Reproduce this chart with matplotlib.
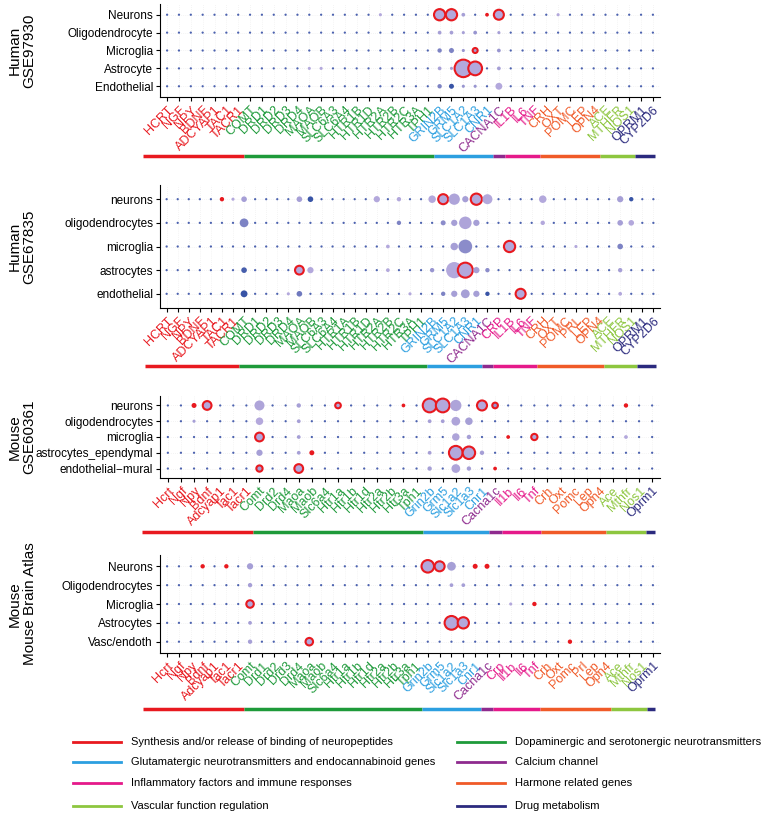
import numpy as np
import matplotlib.pyplot as plt
from matplotlib.colors import LinearSegmentedColormap

plt.rcParams['font.family'] = ['Liberation Sans', 'DejaVu Sans']

# group colors
group_colors = ['#E8191F', '#1E9A3A', '#2C9FE0', '#8E2A8E', '#E5198A', '#F05A28', '#8DC63F', '#2B2A7E']
group_names = ['Synthesis and/or release of binding of neuropeptides',
               'Dopaminergic and serotonergic neurotransmitters',
               'Glutamatergic neurotransmitters and endocannabinoid genes',
               'Calcium channel',
               'Inflammatory factors and immune responses',
               'Harmone related genes',
               'Vascular function regulation',
               'Drug metabolism']

# ---- panel 1: Human GSE97930
genes1 = [['HCRT', 'NGF', 'NPY', 'BDNF', 'ADCYAP1', 'TAC1', 'TACR1'],
          ['COMT', 'DRD1', 'DRD2', 'DRD3', 'DRD4', 'MAOA', 'MAOB', 'SLC6A3', 'SLC6A4', 'HTR1B', 'HTR1D',
           'HTR2A', 'HTR2B', 'HTR2C', 'HTR3A', 'TPH1'],
          ['GRIN2B', 'GRM5', 'SLC1A2', 'SLC1A3', 'CNR1'],
          ['CACNA1C'],
          ['IL1B', 'IL6', 'TNF'],
          ['CRH', 'OXT', 'POMC', 'LEP', 'OPN4'],
          ['ACE', 'MTHFR', 'NOS1'],
          ['OPRM1', 'CYP2D6']]
cells1 = ['Neurons', 'Oligodendrocyte', 'Microglia', 'Astrocyte', 'Endothelial']
# (cell, gene, dot diameter, shade 0=light 1=dark, red 0 none / 1 ring / 2 solid)
spots1 = [
    ('Neurons', 'GRIN2B', 9, 1, 1), ('Neurons', 'GRM5', 9, 1, 1), ('Neurons', 'SLC1A2', 3, 0.1, 0),
    ('Neurons', 'CNR1', 3, 1, 2), ('Neurons', 'CACNA1C', 8, 1, 1), ('Neurons', 'HTR2A', 2.5, 1, 0),
    ('Neurons', 'OXT', 2.5, 1, 0),
    ('Oligodendrocyte', 'GRIN2B', 3, 0.1, 0), ('Oligodendrocyte', 'GRM5', 3, 0.1, 0),
    ('Oligodendrocyte', 'SLC1A2', 2.5, 0.1, 0), ('Oligodendrocyte', 'SLC1A3', 3, 0.2, 0),
    ('Oligodendrocyte', 'CACNA1C', 2.5, 0.1, 0),
    ('Microglia', 'GRIN2B', 3.5, 0.4, 0), ('Microglia', 'GRM5', 4, 0.4, 0), ('Microglia', 'SLC1A2', 2.5, 0.2, 0),
    ('Microglia', 'SLC1A3', 4, 0.1, 1), ('Microglia', 'CACNA1C', 3, 0.2, 0),
    ('Astrocyte', 'SLC1A2', 14, 1, 1), ('Astrocyte', 'SLC1A3', 11, 1, 1), ('Astrocyte', 'GRIN2B', 3, 0.1, 0),
    ('Astrocyte', 'GRM5', 2.5, 0.1, 0), ('Astrocyte', 'CACNA1C', 3, 0.1, 0), ('Astrocyte', 'MAOA', 2.5, 1, 0),
    ('Astrocyte', 'MAOB', 2.5, 1, 0),
    ('Endothelial', 'GRIN2B', 3.5, 0.4, 0), ('Endothelial', 'GRM5', 4, 0.9, 0),
    ('Endothelial', 'SLC1A2', 2.5, 0.2, 0), ('Endothelial', 'SLC1A3', 2.5, 0.2, 0),
    ('Endothelial', 'CACNA1C', 5.5, 1, 0)]

# ---- panel 2: Human GSE67835
genes2 = [['HCRT', 'NGF', 'NPY', 'BDNF', 'ADCYAP1', 'TAC1', 'TACR1'],
          ['COMT', 'DRD1', 'DRD2', 'DRD3', 'DRD4', 'MAOA', 'MAOB', 'SLC6A3', 'SLC6A4', 'HTR1A', 'HTR1B', 'HTR1D',
           'HTR2A', 'HTR2B', 'HTR2C', 'HTR3A', 'TPH1'],
          ['GRIN2B', 'GRM5', 'SLC1A2', 'SLC1A3', 'CNR1'],
          ['CACNA1C'],
          ['CRP', 'IL1B', 'IL6', 'TNF'],
          ['CRH', 'OXT', 'POMC', 'PRL', 'LEP', 'OPN4'],
          ['ACE', 'MTHFR', 'NOS1'],
          ['OPRM1', 'CYP2D6']]
cells2 = ['neurons', 'oligodendrocytes', 'microglia', 'astrocytes', 'endothelial']
spots2 = [
    ('neurons', 'TAC1', 3.5, 1, 2), ('neurons', 'TACR1', 2.5, 1, 0), ('neurons', 'COMT', 4.5, 0.1, 0),
    ('neurons', 'MAOA', 4.5, 0.1, 0), ('neurons', 'MAOB', 4.5, 0.9, 0), ('neurons', 'HTR2A', 5, 1, 0),
    ('neurons', 'HTR2C', 3.5, 1, 0), ('neurons', 'GRIN2B', 6, 1, 0), ('neurons', 'GRM5', 8, 1, 1),
    ('neurons', 'SLC1A2', 9, 0.05, 0), ('neurons', 'SLC1A3', 5, 0.1, 0), ('neurons', 'CNR1', 9, 1, 1),
    ('neurons', 'CACNA1C', 8, 1, 0), ('neurons', 'CRH', 6, 1, 0), ('neurons', 'MTHFR', 5, 0.1, 0),
    ('neurons', 'NOS1', 3.5, 0.9, 0),
    ('oligodendrocytes', 'COMT', 7, 0.4, 0), ('oligodendrocytes', 'HTR2C', 3.5, 0.4, 0),
    ('oligodendrocytes', 'GRM5', 4, 0.3, 0), ('oligodendrocytes', 'SLC1A2', 5, 0.1, 0),
    ('oligodendrocytes', 'SLC1A3', 10, 0.05, 0), ('oligodendrocytes', 'CNR1', 5, 0.1, 0),
    ('oligodendrocytes', 'CRH', 3.5, 1, 0), ('oligodendrocytes', 'MTHFR', 4.5, 0.1, 0),
    ('oligodendrocytes', 'NOS1', 4.5, 1, 0),
    ('microglia', 'HTR2B', 3, 1, 0), ('microglia', 'SLC1A2', 6, 0.1, 0), ('microglia', 'SLC1A3', 11, 0.3, 0),
    ('microglia', 'IL1B', 9, 1, 1), ('microglia', 'PRL', 2.5, 1, 0), ('microglia', 'MTHFR', 4.5, 0.4, 0),
    ('astrocytes', 'COMT', 4.5, 0.8, 0), ('astrocytes', 'MAOA', 7, 1, 1), ('astrocytes', 'MAOB', 5, 1, 0),
    ('astrocytes', 'HTR2B', 3, 1, 0), ('astrocytes', 'GRIN2B', 3.5, 0.2, 0), ('astrocytes', 'SLC1A2', 13, 1, 0),
    ('astrocytes', 'SLC1A3', 12, 1, 1), ('astrocytes', 'CNR1', 5, 0.1, 0), ('astrocytes', 'CACNA1C', 3.5, 0.3, 0),
    ('astrocytes', 'MTHFR', 3.5, 0.1, 0),
    ('endothelial', 'COMT', 5.5, 0.9, 0), ('endothelial', 'DRD4', 2.5, 1, 0), ('endothelial', 'MAOA', 4.5, 0.5, 0),
    ('endothelial', 'HTR3A', 2.5, 1, 0), ('endothelial', 'GRM5', 3.5, 0.4, 0),
    ('endothelial', 'SLC1A2', 5, 0.1, 0), ('endothelial', 'SLC1A3', 7, 0.1, 0), ('endothelial', 'CNR1', 5, 0.1, 0),
    ('endothelial', 'CACNA1C', 3.5, 0.9, 0), ('endothelial', 'IL6', 8, 1, 1), ('endothelial', 'MTHFR', 3, 1, 0)]

# ---- panel 3: Mouse GSE60361
genes3 = [['Hcrt', 'Ngf', 'Npy', 'Bdnf', 'Adcyap1', 'Tac1', 'Tacr1'],
          ['Comt', 'Drd2', 'Drd4', 'Maoa', 'Maob', 'Slc6a4', 'Htr1a', 'Htr1b', 'Htr1d', 'Htr2a', 'Htr2b', 'Htr3a',
           'Tph1'],
          ['Grin2b', 'Grm5', 'Slc1a2', 'Slc1a3', 'Cnr1'],
          ['Cacna1c'],
          ['Il1b', 'Il6', 'Tnf'],
          ['Crh', 'Oxt', 'Pomc', 'Lep', 'Opn4'],
          ['Ace', 'Mthfr', 'Nos1'],
          ['Oprm1']]
cells3 = ['neurons', 'oligodendrocytes', 'microglia', 'astrocytes_ependymal', 'endothelial\u2212mural']
spots3 = [
    ('neurons', 'Npy', 4, 1, 2), ('neurons', 'Bdnf', 7, 1, 1), ('neurons', 'Comt', 8, 0.05, 0),
    ('neurons', 'Maoa', 3.5, 0.1, 0), ('neurons', 'Htr1a', 4.5, 1, 1), ('neurons', 'Htr3a', 3, 1, 2),
    ('neurons', 'Grin2b', 11, 1, 1), ('neurons', 'Grm5', 11, 1, 1), ('neurons', 'Slc1a2', 9, 0.05, 0),
    ('neurons', 'Cnr1', 8, 1, 1), ('neurons', 'Cacna1c', 4.5, 0.2, 1), ('neurons', 'Mthfr', 3.5, 1, 2),
    ('oligodendrocytes', 'Npy', 2.5, 0.1, 0), ('oligodendrocytes', 'Comt', 6, 0.0, 0),
    ('oligodendrocytes', 'Maoa', 3, 0.1, 0), ('oligodendrocytes', 'Grin2b', 3, 0.1, 0),
    ('oligodendrocytes', 'Grm5', 3, 0.1, 0), ('oligodendrocytes', 'Slc1a2', 7, 0.05, 0),
    ('oligodendrocytes', 'Slc1a3', 6, 0.1, 0),
    ('microglia', 'Comt', 7, 1, 1), ('microglia', 'Maoa', 3, 0.1, 0), ('microglia', 'Slc1a2', 6, 0.05, 0),
    ('microglia', 'Slc1a3', 3.5, 0.1, 0), ('microglia', 'Il1b', 3, 1, 2), ('microglia', 'Tnf', 5, 1, 1),
    ('microglia', 'Mthfr', 3, 1, 0),
    ('astrocytes_ependymal', 'Comt', 5, 0.1, 0), ('astrocytes_ependymal', 'Maoa', 3, 0.1, 0),
    ('astrocytes_ependymal', 'Maob', 4, 1, 2), ('astrocytes_ependymal', 'Grin2b', 3, 0.1, 0),
    ('astrocytes_ependymal', 'Slc1a2', 11, 1, 1), ('astrocytes_ependymal', 'Slc1a3', 10, 1, 1),
    ('astrocytes_ependymal', 'Cnr1', 3.5, 0.1, 0),
    ('endothelial\u2212mural', 'Comt', 5, 0.1, 1), ('endothelial\u2212mural', 'Maoa', 7, 1, 1),
    ('endothelial\u2212mural', 'Grin2b', 3.5, 0.1, 0), ('endothelial\u2212mural', 'Slc1a2', 7, 0.05, 0),
    ('endothelial\u2212mural', 'Slc1a3', 3.5, 0.1, 0), ('endothelial\u2212mural', 'Cacna1c', 3, 1, 2)]

# ---- panel 4: Mouse Brain Atlas
genes4 = [['Hcrt', 'Ngf', 'Npy', 'Bdnf', 'Adcyap1', 'Tac1', 'Tacr1'],
          ['Comt', 'Drd1', 'Drd2', 'Drd3', 'Drd4', 'Maoa', 'Maob', 'Slc6a4', 'Htr1a', 'Htr1b', 'Htr1d', 'Htr2a',
           'Htr2b', 'Htr3a', 'Tph1'],
          ['Grin2b', 'Grm5', 'Slc1a2', 'Slc1a3', 'Cnr1'],
          ['Cacna1c'],
          ['Crp', 'Il1b', 'Il6', 'Tnf'],
          ['Crh', 'Oxt', 'Pomc', 'Prl', 'Lep', 'Opn4'],
          ['Ace', 'Mthfr', 'Nos1'],
          ['Oprm1']]
cells4 = ['Neurons', 'Oligodendrocytes', 'Microglia', 'Astrocytes', 'Vasc/endoth']
spots4 = [
    ('Neurons', 'Bdnf', 3.5, 1, 2), ('Neurons', 'Tac1', 3.5, 1, 2), ('Neurons', 'Comt', 5, 0.1, 0),
    ('Neurons', 'Grin2b', 10, 1, 1), ('Neurons', 'Grm5', 8, 1, 1), ('Neurons', 'Slc1a2', 7, 0.1, 0),
    ('Neurons', 'Cnr1', 4, 1, 2), ('Neurons', 'Cacna1c', 4, 1, 2),
    ('Oligodendrocytes', 'Comt', 3.5, 0.1, 0), ('Oligodendrocytes', 'Slc1a2', 3, 0.1, 0),
    ('Oligodendrocytes', 'Slc1a3', 3, 0.1, 0),
    ('Microglia', 'Comt', 6, 1, 1), ('Microglia', 'Il1b', 2.5, 1, 0), ('Microglia', 'Tnf', 3.5, 1, 2),
    ('Astrocytes', 'Comt', 3, 0.1, 0), ('Astrocytes', 'Slc1a2', 11, 1, 1), ('Astrocytes', 'Slc1a3', 9, 1, 1),
    ('Vasc/endoth', 'Comt', 3.5, 0.1, 0), ('Vasc/endoth', 'Maoa', 6, 1, 1), ('Vasc/endoth', 'Pomc', 3.5, 1, 2)]

panels = [
    (genes1, cells1, spots1, 'Human\nGSE97930'),
    (genes2, cells2, spots2, 'Human\nGSE67835'),
    (genes3, cells3, spots3, 'Mouse\nGSE60361'),
    (genes4, cells4, spots4, 'Mouse\nMouse Brain Atlas'),
]

# layout in pixels: (top, bottom) of axes, y of colour bar
W, H = 767, 815
boxes = [(4, 97, 156), (185, 308, 366), (396, 478, 532), (555, 653, 709)]

cmap = LinearSegmentedColormap.from_list('dots', ['#B4A8DC', '#2A4BA0'])

fig = plt.figure(figsize=(W / 100, H / 100), dpi=100)
for (genes, cells, spots, title), (top, bot, bary) in zip(panels, boxes):
    ax = fig.add_axes([160 / W, 1 - bot / H, 500 / W, (bot - top) / H])
    flat = [g for grp in genes for g in grp]
    gcol = [group_colors[i] for i, grp in enumerate(genes) for g in grp]
    n = len(flat)
    nr = len(cells)
    lookup = {(c, g): (d, sh, r) for c, g, d, sh, r in spots}
    xs, ys, ss, fc, ec, lw = [], [], [], [], [], []
    for ri, c in enumerate(cells):
        for gi, g in enumerate(flat):
            d, sh, r = lookup.get((c, g), (1.8, 0.75, 0))
            xs.append(gi)
            ys.append(nr - 1 - ri)
            ss.append((d * 0.9) ** 2)
            if r == 2:
                fc.append('#E8191F'); ec.append('#E8191F'); lw.append(0)
            elif r == 1:
                fc.append(cmap(sh)); ec.append('#E8191F'); lw.append(1.5)
            else:
                fc.append(cmap(sh)); ec.append('none'); lw.append(0)
    ax.scatter(xs, ys, s=ss, c=fc, edgecolors=ec, linewidths=lw, zorder=3)
    ax.set_xlim(-0.6, n - 0.4)
    ax.set_ylim(-0.6, nr - 0.4)
    ax.grid(True, color='#EAEAEA', linestyle=(0, (1, 2)), linewidth=0.5)
    ax.set_axisbelow(True)
    ax.set_yticks(range(nr))
    ax.set_yticklabels(cells[::-1], fontsize=8.5)
    ax.set_xticks(range(n))
    ax.set_xticklabels(flat, rotation=45, ha='right', rotation_mode='anchor', fontsize=9)
    for lab, col in zip(ax.get_xticklabels(), gcol):
        lab.set_color(col)
    for sp in ['top', 'right']:
        ax.spines[sp].set_visible(False)
    ax.tick_params(length=3, width=0.8, pad=2)
    # colour bar below labels
    pos_ = ax.get_position()
    by = (1 - bary / H - pos_.y0) / pos_.height
    trans = ax.get_xaxis_transform()
    start = -2.0
    pos = 0
    for i, grp in enumerate(genes):
        end = pos + len(grp) - 0.5
        if i == len(genes) - 1:
            end = n - 0.8
        ax.plot([start, end], [by, by], transform=trans, color=group_colors[i], lw=2.5,
                clip_on=False, solid_capstyle='butt')
        start = end
        pos += len(grp)
    fig.text(22 / W, 1 - (top + bot) / 2 / H, title, rotation=90, ha='center', va='center',
             fontsize=11, linespacing=1.1)

# legend drawn by hand, two columns
leg_rows = [742, 762, 783, 806]
for k, (name, col) in enumerate(zip(group_names, group_colors)):
    row, colx = k // 2, k % 2
    y = 1 - leg_rows[row] / H
    x0 = 73 if colx == 0 else 457
    fig.add_artist(plt.Line2D([x0 / W, (x0 + 48) / W], [y, y], color=col, lw=2))
    fig.text((x0 + 58) / W, y, name, va='center', fontsize=8)

fig.savefig('out.png', dpi=100)
